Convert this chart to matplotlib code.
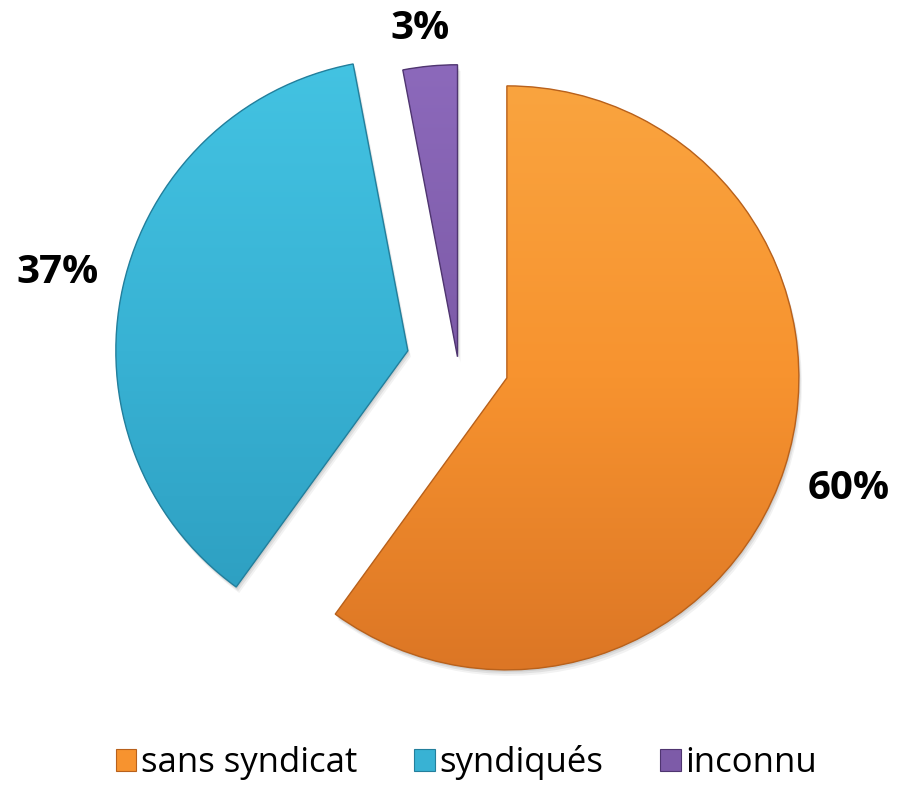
import numpy as np
import matplotlib
matplotlib.use("Agg")
import matplotlib.pyplot as plt
from matplotlib.patches import Wedge, Patch
from matplotlib.colors import LinearSegmentedColormap

# données
categories = ["sans syndicat", "syndiqués", "inconnu"]
values = [60, 37, 3]
pct_labels = ["60%", "37%", "3%"]

# style
explode_frac = [0.176, 0.176, 0.018]
label_dist = [1.23, 1.23, 1.13]
base_colors = ["#F7932F", "#38B2D4", "#7D5BA8"]
top_colors = ["#FAA43F", "#43C3E2", "#8C69BB"]
bottom_colors = ["#DC7625", "#2C9CBE", "#684891"]
edge_colors = ["#B8611C", "#237F9C", "#4F3570"]

plt.rcParams["font.family"] = ["Open Sans", "DejaVu Sans"]

W, H = 897, 785
R = 292
C = (458, H - 362)

fig = plt.figure(figsize=(W / 100, H / 100), dpi=100)
ax = fig.add_axes([0, 0, 1, 1])

wedges, _ = ax.pie(
    values, radius=R, center=C, startangle=90, counterclock=False,
    explode=[f * R for f in explode_frac], colors=base_colors,
    wedgeprops=dict(linewidth=0),
)

grad = np.linspace(0, 1, 256).reshape(-1, 1)
for i, w in enumerate(wedges):
    cx, cy = w.center
    # ombre légère
    for k, a in [(6, 0.05), (4, 0.07), (2, 0.08)]:
        sh = Wedge((cx + k * 0.5, cy - k), R, w.theta1, w.theta2,
                   facecolor="#000000", alpha=a, linewidth=0, zorder=0.5)
        ax.add_patch(sh)
    w.set_zorder(1)
    cmap = LinearSegmentedColormap.from_list(
        f"g{i}", [bottom_colors[i], base_colors[i], top_colors[i]])
    im = ax.imshow(grad, extent=(cx - R, cx + R, cy - R, cy + R),
                   origin="lower", cmap=cmap, zorder=2, interpolation="bilinear")
    im.set_clip_path(w)
    ax.add_patch(Wedge((cx, cy), R, w.theta1, w.theta2, fill=False,
                       edgecolor=edge_colors[i], linewidth=1.0, zorder=3))

    th = np.deg2rad((w.theta1 + w.theta2) / 2)
    ax.text(cx + R * label_dist[i] * np.cos(th) - (6 if i == 2 else 0),
            cy + R * label_dist[i] * np.sin(th),
            pct_labels[i], ha="center", va="center", fontsize=29,
            fontweight="bold", color="black", zorder=4)

ax.set_xlim(0, W)
ax.set_ylim(0, H)
ax.set_aspect("equal")
ax.axis("off")

handles = [Patch(facecolor=base_colors[i], edgecolor=edge_colors[i], linewidth=0.8)
           for i in range(len(categories))]
fig.legend(handles, categories, loc="center", bbox_to_anchor=(0.52, 1 - 763 / H),
           ncol=3, frameon=False, fontsize=25, handlelength=0.6, handleheight=0.6,
           handletextpad=0.12, columnspacing=1.65)

fig.savefig("out.png", dpi=100, facecolor="white")
